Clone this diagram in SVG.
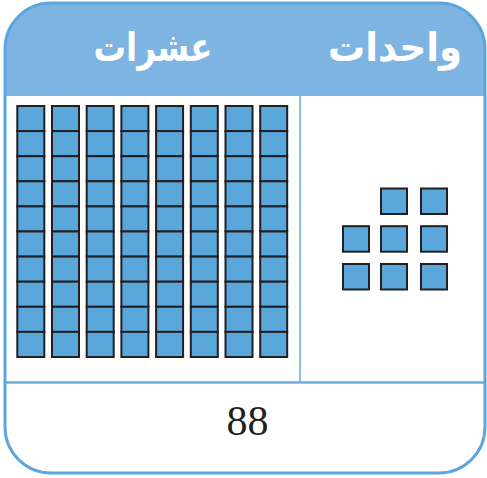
<svg xmlns="http://www.w3.org/2000/svg" width="487" height="478" viewBox="0 0 487 478">
<style>
.sq{fill:#5aa7dc;stroke:#231f20;stroke-width:2}
.hd{font-family:"DejaVu Sans",sans-serif;font-size:40px;font-weight:bold;fill:#ffffff;text-anchor:middle}
.num{font-family:"Liberation Serif","Times New Roman",serif;font-size:42px;fill:#231f20;text-anchor:middle}
.div{stroke:#8cc0e8;stroke-width:2;fill:none}
</style>
<defs>
<clipPath id="c"><rect x="5" y="3" width="480" height="470" rx="46"/></clipPath>
<g id="rod">
<rect class="sq" x="0" y="0" width="27" height="25.1"/>
<rect class="sq" x="0" y="25.1" width="27" height="25.1"/>
<rect class="sq" x="0" y="50.2" width="27" height="25.1"/>
<rect class="sq" x="0" y="75.3" width="27" height="25.1"/>
<rect class="sq" x="0" y="100.4" width="27" height="25.1"/>
<rect class="sq" x="0" y="125.5" width="27" height="25.1"/>
<rect class="sq" x="0" y="150.6" width="27" height="25.1"/>
<rect class="sq" x="0" y="175.7" width="27" height="25.1"/>
<rect class="sq" x="0" y="200.8" width="27" height="25.1"/>
<rect class="sq" x="0" y="225.9" width="27" height="25.1"/>
</g>
</defs>
<g id="frame">
<rect x="5" y="3" width="480" height="470" rx="46" fill="#ffffff"/>
<rect x="0" y="0" width="487" height="96" fill="#7db4e1" clip-path="url(#c)"/>
<line class="div" x1="300" y1="96" x2="300" y2="382"/>
<line x1="5" y1="382.5" x2="485" y2="382.5" stroke="#6aaee0" stroke-width="2.5"/>
<rect x="5" y="3" width="480" height="470" rx="46" fill="none" stroke="#5ca6dd" stroke-width="3"/>
</g>
<g id="header-tens"><text class="hd" x="153" y="61" textLength="119" lengthAdjust="spacingAndGlyphs">عشرات</text></g>
<g id="header-ones"><text class="hd" x="395" y="61" textLength="134" lengthAdjust="spacingAndGlyphs">واحدات</text></g>
<g id="tens">
<use href="#rod" x="17.3" y="106"/>
<use href="#rod" x="52" y="106"/>
<use href="#rod" x="86.7" y="106"/>
<use href="#rod" x="121.4" y="106"/>
<use href="#rod" x="156.1" y="106"/>
<use href="#rod" x="190.8" y="106"/>
<use href="#rod" x="225.5" y="106"/>
<use href="#rod" x="260.2" y="106"/>
</g>
<g id="ones">
<rect class="sq" x="381" y="188.5" width="26" height="25.5"/>
<rect class="sq" x="421" y="188.5" width="26" height="25.5"/>
<rect class="sq" x="343" y="226.2" width="26" height="25.5"/>
<rect class="sq" x="381" y="226.2" width="26" height="25.5"/>
<rect class="sq" x="421" y="226.2" width="26" height="25.5"/>
<rect class="sq" x="343" y="264" width="26" height="25.5"/>
<rect class="sq" x="381" y="264" width="26" height="25.5"/>
<rect class="sq" x="421" y="264" width="26" height="25.5"/>
</g>
<g id="number"><text class="num" x="247.5" y="435">88</text></g>
</svg>
